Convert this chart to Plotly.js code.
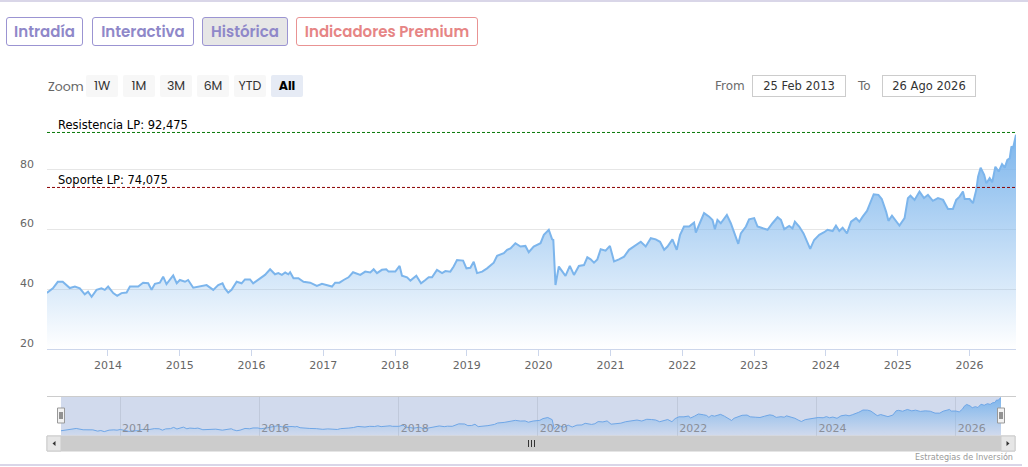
<!DOCTYPE html>
<html>
<head>
<meta charset="utf-8">
<script src="https://cdn.plot.ly/plotly-3.0.1.min.js"></script>
<style>
  html, body { margin:0; padding:0; background:#fff; }
  #wrap { position:relative; width:1028px; height:467px; overflow:hidden; }
  #chart { position:absolute; left:0; top:0; width:1028px; height:467px; }
  .topline { position:absolute; left:0; top:0; width:1028px; height:0; border-top:2px solid #d9d6e8; z-index:5; }
  .botline { position:absolute; left:0; top:464px; width:1022px; height:0; border-top:2px solid #d9d6e8; z-index:5; }
  .tab { position:absolute; top:17px; height:29px; box-sizing:border-box; border:1.5px solid #9b94d2; border-radius:3px;
         font-family:"Poppins","Inter","Noto Sans",sans-serif; font-weight:600; font-size:15px; color:#8f88c9;
         display:flex; align-items:center; justify-content:center; z-index:10; background:#fff; }
  .tab.active { background:#e6e6e6; }
  .tab.premium { border-color:#e99393; color:#e68585; }
  .zoomlbl { position:absolute; left:48px; top:78px; font-family:"Poppins","Inter",sans-serif; font-size:12.5px; color:#666; z-index:10; }
  .zbtn { position:absolute; top:75px; width:32px; height:22px; background:#f7f7f7; border-radius:2px;
          font-family:"Poppins","Inter",sans-serif; font-size:12.5px; color:#333; display:flex; align-items:center; justify-content:center; z-index:10; }
  .zbtn.sel { background:#e6ebf5; font-weight:700; color:#000; }
  .rlbl { position:absolute; top:79px; font-family:"DejaVu Sans",sans-serif; font-size:12px; color:#6b6b6b; z-index:10; }
  .rbox { position:absolute; top:75px; width:94px; height:22px; box-sizing:border-box; border:1px solid #cccccc;
          font-family:"DejaVu Sans",sans-serif; font-size:11.5px; color:#333; display:flex; align-items:center; justify-content:center; z-index:10; background:#fff; }
</style>
</head>
<body>
<div id="wrap">
  <div id="chart"></div>
  <div class="topline"></div>
  <div class="botline"></div>
  <div id="tabs"></div>
  <div id="zoomrow"></div>
  <div id="rangerow"></div>
</div>
<script>
// ---------- DATA ----------
const tabLabels = ["Intradía", "Interactiva", "Histórica", "Indicadores Premium"];
const zoomLabels = ["1W", "1M", "3M", "6M", "YTD", "All"];
const rangeFrom = "25 Feb 2013";
const rangeTo = "26 Ago 2026";
const rangeStart = "2013-02-25";
const rangeEnd = "2026-08-26";
const resistanceLevel = 92.475;
const supportLevel = 74.075;
const resistanceName = "Resistencia LP";
const supportName = "Soporte LP";
const yTickVals = [20, 40, 60, 80, 100];
const yTickText = ["20", "40", "60", "80", ""];
const creditText = "Estrategias de Inversión";

// time in decimal years
const timeYears = [
 2013.150,2013.233,2013.302,2013.372,2013.470,2013.540,2013.609,2013.679,2013.725,2013.773,2013.842,2013.912,2013.958,
 2014.004,2014.074,2014.130,2014.191,2014.261,2014.307,2014.423,2014.493,2014.562,2014.610,2014.656,2014.726,2014.772,2014.819,2014.865,2014.911,2014.959,
 2015.005,2015.074,2015.120,2015.190,2015.284,2015.377,2015.469,2015.539,2015.600,2015.632,2015.679,2015.726,2015.796,2015.865,2015.912,2015.981,
 2016.027,2016.121,2016.191,2016.260,2016.330,2016.376,2016.424,2016.470,2016.516,2016.539,2016.586,2016.655,2016.725,2016.818,2016.912,2016.982,
 2017.051,2017.121,2017.167,2017.227,2017.283,2017.353,2017.414,2017.516,2017.586,2017.656,2017.702,2017.749,2017.819,2017.879,2017.911,
 2018.005,2018.065,2018.098,2018.168,2018.214,2018.298,2018.363,2018.423,2018.469,2018.517,2018.586,2018.656,2018.702,2018.772,2018.818,2018.865,2018.949,2018.995,
 2019.051,2019.097,2019.144,2019.214,2019.284,2019.376,2019.423,2019.516,2019.563,2019.609,2019.679,2019.749,2019.818,2019.864,2019.934,
 2020.028,2020.074,2020.144,2020.191,2020.205,2020.237,2020.283,2020.330,2020.377,2020.437,2020.493,2020.562,2020.632,2020.679,2020.725,2020.771,2020.819,2020.865,2020.934,2020.994,
 2021.050,2021.119,2021.190,2021.260,2021.329,2021.423,2021.492,2021.562,2021.632,2021.692,2021.748,2021.795,2021.865,2021.925,2021.971,
 2022.027,2022.097,2022.167,2022.190,2022.250,2022.306,2022.376,2022.423,2022.455,2022.493,2022.539,2022.623,2022.679,2022.725,2022.781,2022.819,2022.888,2022.934,
 2023.004,2023.051,2023.121,2023.191,2023.260,2023.330,2023.376,2023.423,2023.492,2023.539,2023.572,2023.632,2023.693,2023.739,2023.785,2023.841,2023.910,2023.980,
 2024.027,2024.097,2024.144,2024.190,2024.237,2024.297,2024.353,2024.423,2024.469,2024.516,2024.576,2024.608,2024.669,2024.734,2024.781,2024.841,2024.873,2024.921,2024.981,
 2025.027,2025.097,2025.144,2025.180,2025.236,2025.306,2025.368,2025.423,2025.493,2025.563,2025.633,2025.702,2025.772,2025.818,2025.865,2025.912,2025.935,
 2026.004,2026.052,2026.098,2026.122,2026.158,2026.206,2026.238,2026.284,2026.318,2026.364,2026.410,2026.457,2026.494,2026.531,2026.563,2026.587,2026.610,2026.642,2026.650
];
const prices = [
 38.8,40.3,42.5,42.5,40.4,40.9,40.3,38.3,39.2,37.5,39.8,40.3,39.8,
 40.9,38.7,37.8,38.7,38.9,40.9,40.9,42.2,42.0,39.8,41.8,42.2,44.2,41.7,43.1,44.6,42.0,
 43.1,42.5,43.1,40.5,40.9,41.4,39.8,41.4,42.0,40.3,38.9,39.8,42.5,42.0,43.3,43.3,
 42.0,43.7,44.8,46.7,45.0,45.4,44.8,45.6,45.0,45.7,43.7,43.7,42.5,42.2,41.1,41.8,
 41.4,40.9,42.2,42.2,43.1,44.0,45.7,44.8,45.9,45.6,46.7,45.4,46.5,46.7,45.9,
 45.9,47.8,44.5,44.0,42.9,44.5,42.0,43.1,44.0,44.0,46.5,45.4,46.1,45.9,47.6,49.8,49.6,47.0,
 47.2,49.2,45.4,45.9,47.0,48.9,51.2,52.1,53.2,53.7,55.4,54.3,54.5,52.4,54.3,
 55.4,58.2,59.9,56.7,56.5,41.4,47.6,45.9,44.5,47.8,44.8,47.8,48.1,50.7,50.0,48.9,50.0,53.4,52.9,54.5,
 49.3,50.0,50.9,53.2,54.5,55.9,54.3,57.1,56.7,55.9,53.2,54.3,56.7,53.2,58.2,
 61.0,61.0,62.3,59.0,62.1,65.5,64.3,63.2,60.1,63.2,62.1,64.9,62.1,58.7,55.2,58.7,61.0,63.4,
 63.8,61.0,60.4,59.9,62.1,64.1,63.2,60.1,61.2,60.4,62.6,61.0,58.7,55.9,53.5,56.5,58.2,59.1,
 59.9,59.5,61.3,59.5,60.6,58.7,62.6,63.8,62.6,64.3,66.2,68.2,71.8,71.6,70.2,66.0,62.9,64.6,62.6,
 61.3,63.8,70.5,71.3,69.9,72.7,70.5,71.6,69.6,70.5,69.9,66.9,66.9,69.9,71.0,72.7,70.2,
 70.2,68.8,73.3,77.7,80.7,78.3,75.5,77.2,75.8,81.0,79.4,81.9,80.7,83.3,83.8,87.8,87.2,91.1,91.7
];

// ---------- HELPERS ----------
function yearToDate(t) {
  const y = Math.floor(t);
  const a = Date.UTC(y, 0, 1), b = Date.UTC(y + 1, 0, 1);
  return new Date(a + (t - y) * (b - a)).toISOString().slice(0, 10);
}
const dates = timeYears.map(yearToDate);
const fmt = v => String(v).replace('.', ',');

// ---------- HTML controls ----------
const tabPos = [[6, 77], [92, 102], [202, 86], [296, 182]];
const tabs = document.getElementById('tabs');
tabLabels.forEach((t, i) => {
  const d = document.createElement('div');
  d.className = 'tab' + (i === 2 ? ' active' : '') + (i === 3 ? ' premium' : '');
  d.style.left = tabPos[i][0] + 'px'; d.style.width = tabPos[i][1] + 'px';
  d.textContent = t; tabs.appendChild(d);
});
const zr = document.getElementById('zoomrow');
const zl = document.createElement('div'); zl.className = 'zoomlbl'; zl.textContent = 'Zoom'; zr.appendChild(zl);
zoomLabels.forEach((t, i) => {
  const d = document.createElement('div');
  d.className = 'zbtn' + (i === zoomLabels.length - 1 ? ' sel' : '');
  d.style.left = (86 + i * 37) + 'px'; d.textContent = t; zr.appendChild(d);
});
const rr = document.getElementById('rangerow');
[['From', 715, null], [rangeFrom, 752, 'box'], ['To', 858, null], [rangeTo, 882, 'box']].forEach(([t, x, k]) => {
  const d = document.createElement('div');
  d.className = k ? 'rbox' : 'rlbl'; d.style.left = x + 'px'; d.textContent = t; rr.appendChild(d);
});

// ---------- PLOTLY ----------
const W = 1028, H = 467;
const px = x => x / W, py = y => 1 - y / H;
const blue = '#7cb5ec';
const grad = (lo, hi) => ({ type: 'vertical', start: lo, stop: hi,
  colorscale: [[0, 'rgba(124,181,236,0)'], [1, 'rgba(124,181,236,1)']] });

const traces = [
  { x: dates, y: prices, type: 'scatter', mode: 'lines', xaxis: 'x', yaxis: 'y',
    line: { color: blue, width: 2 }, fill: 'tozeroy', fillgradient: grad(20, 92), hoverinfo: 'skip' },
  { x: dates, y: prices, type: 'scatter', mode: 'lines', xaxis: 'x2', yaxis: 'y2',
    line: { color: '#6fa6e6', width: 1 }, fill: 'tozeroy', fillgradient: grad(31, 92), hoverinfo: 'skip' }
];

const shapes = [
  // resistance & support
  { type: 'line', xref: 'x domain', yref: 'y', x0: 0, x1: 1, y0: resistanceLevel, y1: resistanceLevel,
    line: { color: '#0a7a0a', width: 1, dash: '3px,2px' } },
  { type: 'line', xref: 'x domain', yref: 'y', x0: 0, x1: 1, y0: supportLevel, y1: supportLevel,
    line: { color: '#8b0000', width: 1, dash: '3px,2px' } },
  // navigator mask
  { type: 'rect', xref: 'x2 domain', yref: 'y2 domain', x0: 0, x1: 1, y0: 0, y1: 1,
    fillcolor: 'rgba(102,133,194,0.3)', line: { width: 0 }, layer: 'below' },
  // navigator outline top
  { type: 'line', xref: 'paper', yref: 'paper', x0: px(47), x1: px(1016), y0: py(396.5), y1: py(396.5),
    line: { color: '#cccccc', width: 1 } },
  // scrollbar
  { type: 'rect', xref: 'paper', yref: 'paper', x0: px(47), x1: px(1015), y0: py(451), y1: py(436),
    fillcolor: '#cccccc', line: { color: '#cccccc', width: 1 } },
  { type: 'rect', xref: 'paper', yref: 'paper', x0: px(47), x1: px(61), y0: py(451), y1: py(436),
    fillcolor: '#e6e6e6', line: { color: '#cccccc', width: 1 } },
  { type: 'rect', xref: 'paper', yref: 'paper', x0: px(1001), x1: px(1015), y0: py(451), y1: py(436),
    fillcolor: '#e6e6e6', line: { color: '#cccccc', width: 1 } },
  { type: 'path', xref: 'paper', yref: 'paper', fillcolor: '#333', line: { width: 0 },
    path: `M ${px(52.5)} ${py(443.5)} L ${px(55.5)} ${py(441)} L ${px(55.5)} ${py(446)} Z` },
  { type: 'path', xref: 'paper', yref: 'paper', fillcolor: '#333', line: { width: 0 },
    path: `M ${px(1009.5)} ${py(443.5)} L ${px(1006.5)} ${py(441)} L ${px(1006.5)} ${py(446)} Z` }
];
// thumb grip
[-3, 0, 3].forEach(d => shapes.push({ type: 'line', xref: 'paper', yref: 'paper',
  x0: px(531.5 + d), x1: px(531.5 + d), y0: py(440), y1: py(447), line: { color: '#333', width: 1 } }));
// handles
[61, 1001].forEach(cx => {
  shapes.push({ type: 'rect', xref: 'paper', yref: 'paper', x0: px(cx - 3.5), x1: px(cx + 3.5),
    y0: py(423), y1: py(408), fillcolor: '#f2f2f2', line: { color: '#999', width: 1 } });
  [-1, 1].forEach(d => shapes.push({ type: 'line', xref: 'paper', yref: 'paper',
    x0: px(cx + d), x1: px(cx + d), y0: py(412), y1: py(419), line: { color: '#333', width: 1 } }));
});

const annotations = [
  { xref: 'paper', yref: 'y', x: px(56), y: resistanceLevel, xanchor: 'left', yanchor: 'bottom', yshift: -2,
    text: `${resistanceName}: ${fmt(resistanceLevel)}`, showarrow: false,
    font: { family: 'DejaVu Sans', size: 11.5, color: '#000' } },
  { xref: 'paper', yref: 'y', x: px(56), y: supportLevel, xanchor: 'left', yanchor: 'bottom', yshift: -2,
    text: `${supportName}: ${fmt(supportLevel)}`, showarrow: false,
    font: { family: 'DejaVu Sans', size: 11.5, color: '#000' } },
  { xref: 'paper', yref: 'paper', x: px(1015), y: py(457), xanchor: 'right', yanchor: 'middle',
    text: creditText, showarrow: false,
    font: { family: 'DejaVu Sans Condensed, Liberation Sans Narrow, DejaVu Sans', size: 9, color: '#999' } }
];

const layout = {
  width: W, height: H, margin: { l: 0, r: 0, t: 0, b: 0 },
  paper_bgcolor: 'rgba(0,0,0,0)', plot_bgcolor: 'rgba(0,0,0,0)', showlegend: false,
  font: { family: 'DejaVu Sans', size: 11, color: '#666' },
  xaxis: { type: 'date', domain: [px(47), px(1016)], anchor: 'y', range: [rangeStart, rangeEnd],
    tick0: '2014-01-01', dtick: 'M12', tickformat: '%Y', showgrid: false, zeroline: false,
    showline: true, linecolor: '#ccd6eb', linewidth: 1, ticks: 'outside', ticklen: 6, tickcolor: '#ccd6eb',
    tickfont: { family: 'DejaVu Sans', size: 11, color: '#666' } },
  yaxis: { domain: [py(349), py(110)], anchor: 'x', range: [20, 100], tickvals: yTickVals, ticktext: yTickText,
    showgrid: true, gridcolor: '#e6e6e6', gridwidth: 1, zeroline: false, showline: false, ticks: '',
    ticklabelshift: -6, ticklabelstandoff: 12,
    tickfont: { family: 'DejaVu Sans', size: 11, color: '#666' } },
  xaxis2: { type: 'date', domain: [px(61), px(1001)], anchor: 'y2', range: [rangeStart, rangeEnd],
    tick0: '2014-01-01', dtick: 'M24', tickformat: '%Y', showgrid: true, gridcolor: '#c0c9db',
    ticklabelposition: 'inside right', ticklabelstandoff: -4, ticklabelshift: 2, ticks: '', showline: false, zeroline: false,
    tickfont: { family: 'DejaVu Sans', size: 11, color: '#8a8f9a' } },
  yaxis2: { domain: [py(435.7), py(397)], anchor: 'x2', range: [31, 92.5], showgrid: false,
    showticklabels: false, zeroline: false, showline: false },
  shapes: shapes, annotations: annotations
};

Plotly.newPlot('chart', traces, layout, { staticPlot: true, displayModeBar: false });
</script>
</body>
</html>
